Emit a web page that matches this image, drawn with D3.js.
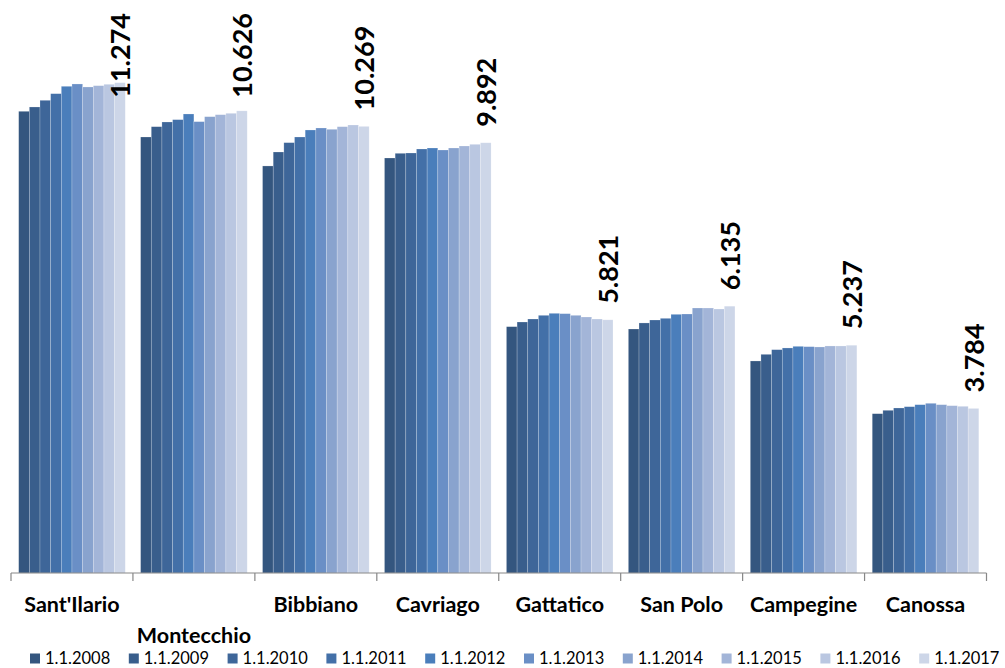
<!DOCTYPE html>
<html>
<head>
<meta charset="utf-8">
<script src="https://cdn.jsdelivr.net/npm/d3@7"></script>
<style>
  html, body { margin: 0; padding: 0; background: #ffffff; }
  svg { display: block; font-family: Lato, "Open Sans", sans-serif; }
</style>
</head>
<body>
<svg id="chart" width="1005" height="668"></svg>
<script>
// Comuni (categories) and census dates (series)
const towns = ["Sant'Ilario", "Montecchio", "Bibbiano", "Cavriago", "Gattatico", "San Polo", "Campegine", "Canossa"];
const years = ["1.1.2008", "1.1.2009", "1.1.2010", "1.1.2011", "1.1.2012", "1.1.2013", "1.1.2014", "1.1.2015", "1.1.2016", "1.1.2017"];

// Resident population at each date, one array per comune (same order as years)
const santIlario = [10616, 10715, 10869, 11021, 11191, 11244, 11175, 11205, 11237, 11274];
const montecchio = [10025, 10262, 10370, 10424, 10554, 10378, 10492, 10538, 10570, 10626];
const bibbiano   = [9359, 9680, 9895, 10025, 10186, 10232, 10202, 10262, 10301, 10269];
const cavriago   = [9542, 9650, 9657, 9749, 9772, 9726, 9772, 9818, 9857, 9892];
const gattatico  = [5664, 5771, 5840, 5925, 5971, 5963, 5925, 5886, 5840, 5821];
const sanPolo    = [5610, 5749, 5817, 5856, 5948, 5955, 6093, 6093, 6070, 6135];
const campegine  = [4875, 5028, 5135, 5174, 5212, 5204, 5197, 5220, 5220, 5237];
const canossa    = [3663, 3741, 3794, 3824, 3870, 3902, 3870, 3847, 3833, 3784];

const values = [santIlario, montecchio, bibbiano, cavriago, gattatico, sanPolo, campegine, canossa];

// Blue monochrome palette, dark to light
const colors = ["#34567f", "#395e8c", "#3e6699", "#4370a8", "#4a7ebb", "#6a8fc6", "#89a3ce", "#a3b5d8", "#bac7e1", "#cdd6e8"];

const svg = d3.select("#chart");

const x0 = d3.scaleBand().domain(towns).range([11, 986.5]).paddingInner(0).paddingOuter(0);
const x1 = d3.scaleBand().domain(years).range([0, x0.bandwidth()]).paddingInner(0).paddingOuter(0.72);
const y = d3.scaleLinear().domain([0, 12000]).range([573, 51.1]);
const color = d3.scaleOrdinal().domain(years).range(colors);

// Bars
const groups = svg.append("g").selectAll("g")
  .data(towns)
  .join("g")
  .attr("transform", d => `translate(${x0(d)},0)`);

groups.selectAll("rect")
  .data((t, i) => years.map((yr, j) => ({ town: t, year: yr, value: values[i][j] })))
  .join("rect")
  .attr("x", d => x1(d.year))
  .attr("y", d => y(d.value))
  .attr("width", x1.bandwidth())
  .attr("height", d => y(0) - y(d.value))
  .attr("fill", d => color(d.year))
  .attr("stroke", "rgba(255,255,255,0.35)")
  .attr("stroke-width", 0.6);

// Category axis: baseline with tick marks at group boundaries
const axis = svg.append("g");
axis.append("line")
  .attr("x1", x0.range()[0]).attr("x2", x0.range()[1])
  .attr("y1", y(0)).attr("y2", y(0))
  .attr("stroke", "#878787").attr("stroke-width", 1.2);
const bounds = towns.map(t => x0(t)).concat([x0.range()[1]]);
axis.selectAll("line.tick")
  .data(bounds)
  .join("line")
  .attr("class", "tick")
  .attr("x1", d => d).attr("x2", d => d)
  .attr("y1", y(0)).attr("y2", y(0) + 8)
  .attr("stroke", "#878787").attr("stroke-width", 1.2);

// Category labels; the second one drops to a lower row
axis.selectAll("text")
  .data(towns)
  .join("text")
  .attr("x", d => x0(d) + x0.bandwidth() / 2)
  .attr("y", (d, i) => i === 1 ? 643 : 612)
  .attr("text-anchor", "middle")
  .attr("font-weight", "bold")
  .attr("font-size", 21.5)
  .attr("fill", "#000")
  .text(d => d);

// Value labels for the latest date, rotated above the last bar
const last = years[years.length - 1];
const labelFmt = v => d3.format(",")(v).replace(/,/g, ".");
const labels = svg.append("g");
towns.forEach((t, i) => {
  const v = values[i][values[i].length - 1];
  const cx = x0(t) + x1(last) + x1.bandwidth() / 2;
  const txt = labels.append("text")
    .attr("text-anchor", "start")
    .attr("dominant-baseline", "central")
    .attr("font-weight", "bold")
    .attr("font-size", 27)
    .attr("fill", "#000")
    .text(labelFmt(v));
  const len = txt.node().getComputedTextLength();
  const yBottom = Math.max(y(v) - 16, 13 + len);
  txt.attr("transform", `translate(${cx},${yBottom}) rotate(-90)`);
});

// Legend
const legend = svg.append("g").selectAll("g")
  .data(years)
  .join("g")
  .attr("transform", (d, i) => `translate(${30 + i * 98.8},653.5)`);
legend.append("rect")
  .attr("width", 10).attr("height", 10)
  .attr("fill", d => color(d));
legend.append("text")
  .attr("x", 15).attr("y", 10.3)
  .attr("font-size", 16.5)
  .attr("fill", "#000")
  .text(d => d);
</script>
</body>
</html>
